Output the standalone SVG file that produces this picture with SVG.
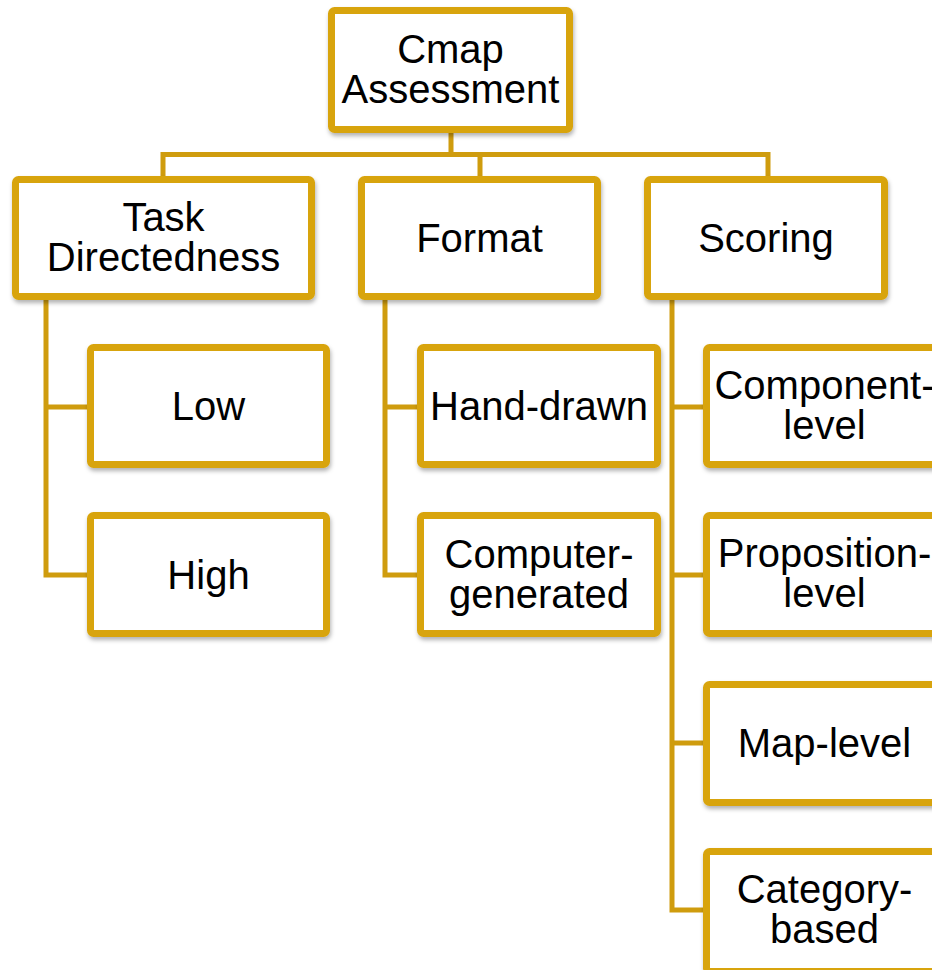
<svg xmlns="http://www.w3.org/2000/svg" width="932" height="970" viewBox="0 0 932 970">
  <defs>
    <filter id="shadow" x="-10%" y="-10%" width="125%" height="130%">
      <feDropShadow dx="1" dy="3" stdDeviation="2" flood-color="#000" flood-opacity="0.3"/>
    </filter>
    <style>
      .box { fill: #ffffff; stroke: #D8A40F; stroke-width: 7; filter: url(#shadow); }
      .lbl { font-family: "Liberation Sans", Arial, sans-serif; font-size: 40px; fill: #000; text-anchor: middle; }
      .link { fill: none; stroke: #CF9C0E; stroke-width: 5; stroke-linejoin: miter; }
    </style>
  </defs>
  <rect width="932" height="970" fill="#ffffff"/>

  <!-- connectors -->
  <g id="connectors">
    <path class="link" d="M451 133 V154.5 M163 177 V154.5 H768 V177 M480 154.5 V177"/>
    <path class="link" d="M46 300 V575 H87 M46 407 H87"/>
    <path class="link" d="M385 300 V575 H417 M385 407 H417"/>
    <path class="link" d="M672 300 V910 H703 M672 407 H703 M672 575 H703 M672 743 H703"/>
  </g>

  <!-- top level -->
  <g id="node-cmap-assessment">
    <rect class="box" x="331.5" y="10.5" width="238" height="119" rx="3"/>
    <text class="lbl" x="450.5" y="63">Cmap</text>
    <text class="lbl" x="450.5" y="103">Assessment</text>
  </g>

  <!-- second level -->
  <g id="node-task-directedness">
    <rect class="box" x="15.5" y="179.5" width="296" height="117" rx="3"/>
    <text class="lbl" x="163.5" y="231">Task</text>
    <text class="lbl" x="163.5" y="271">Directedness</text>
  </g>
  <g id="node-format">
    <rect class="box" x="361.5" y="179.5" width="236" height="117" rx="3"/>
    <text class="lbl" x="479.5" y="252">Format</text>
  </g>
  <g id="node-scoring">
    <rect class="box" x="647.5" y="179.5" width="237" height="117" rx="3"/>
    <text class="lbl" x="766" y="252">Scoring</text>
  </g>

  <!-- task directedness children -->
  <g id="node-low">
    <rect class="box" x="90.5" y="347.5" width="236" height="117" rx="3"/>
    <text class="lbl" x="208.5" y="420">Low</text>
  </g>
  <g id="node-high">
    <rect class="box" x="90.5" y="515.5" width="236" height="118" rx="3"/>
    <text class="lbl" x="208.5" y="589">High</text>
  </g>

  <!-- format children -->
  <g id="node-hand-drawn">
    <rect class="box" x="420.5" y="347.5" width="237" height="117" rx="3"/>
    <text class="lbl" x="539" y="420">Hand-drawn</text>
  </g>
  <g id="node-computer-generated">
    <rect class="box" x="420.5" y="515.5" width="237" height="118" rx="3"/>
    <text class="lbl" x="539" y="568">Computer-</text>
    <text class="lbl" x="539" y="608">generated</text>
  </g>

  <!-- scoring children -->
  <g id="node-component-level">
    <rect class="box" x="706.5" y="347.5" width="236" height="117" rx="3"/>
    <text class="lbl" x="824.5" y="399">Component-</text>
    <text class="lbl" x="824.5" y="439">level</text>
  </g>
  <g id="node-proposition-level">
    <rect class="box" x="706.5" y="515.5" width="236" height="118" rx="3"/>
    <text class="lbl" x="824.5" y="567">Proposition-</text>
    <text class="lbl" x="824.5" y="607">level</text>
  </g>
  <g id="node-map-level">
    <rect class="box" x="706.5" y="684.5" width="236" height="118" rx="3"/>
    <text class="lbl" x="824.5" y="757">Map-level</text>
  </g>
  <g id="node-category-based">
    <rect class="box" x="706.5" y="851.5" width="236" height="120" rx="3"/>
    <text class="lbl" x="824.5" y="903">Category-</text>
    <text class="lbl" x="824.5" y="943">based</text>
  </g>
</svg>
